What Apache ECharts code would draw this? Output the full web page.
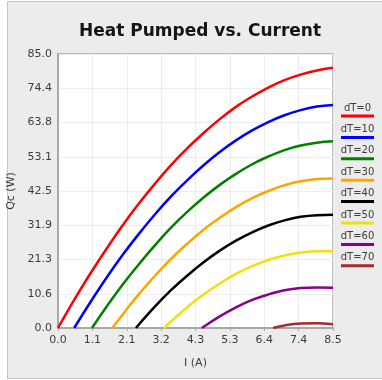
<!DOCTYPE html>
<html>
<head>
<meta charset="utf-8">
<script src="https://cdn.jsdelivr.net/npm/echarts@6/dist/echarts.min.js"></script>
<style>
  html, body { margin: 0; padding: 0; background: #ffffff; }
  #panel { position: absolute; left: 7px; top: 1px; width: 380px; height: 376px; background: #ececec; border: 1px solid #c6c6c6; }
  #chart { position: absolute; left: 0; top: 0; width: 382px; height: 380px; }
</style>
</head>
<body>
<div id="panel"></div>
<div id="chart"></div>
<script>
const currents = [0, 0.5, 1, 1.5, 2, 2.5, 3, 3.5, 4, 4.5, 5, 5.5, 6, 6.5, 7, 7.5, 8, 8.5];

// heat pumped Qc (W) per temperature difference, null = below zero
const qcDT0  = [0, 8.7, 16.9, 24.6, 31.9, 38.6, 44.8, 50.6, 55.8, 60.5, 64.8, 68.6, 71.8, 74.6, 76.9, 78.6, 79.9, 80.7];
const qcDT10 = [null, 0, 8.0, 15.6, 22.7, 29.2, 35.3, 40.9, 45.9, 50.5, 54.6, 58.2, 61.3, 63.9, 66.0, 67.6, 68.7, 69.2];
const qcDT20 = [null, null, null, 6.6, 13.5, 19.8, 25.7, 31.2, 36.1, 40.5, 44.4, 47.8, 50.8, 53.2, 55.2, 56.6, 57.5, 57.9];
const qcDT30 = [null, null, null, null, 4.2, 10.5, 16.2, 21.5, 26.2, 30.5, 34.2, 37.5, 40.3, 42.5, 44.3, 45.5, 46.2, 46.4];
const qcDT40 = [null, null, null, null, null, 1.1, 6.7, 11.8, 16.3, 20.4, 24.0, 27.1, 29.7, 31.8, 33.4, 34.5, 35.0, 35.1];
const qcDT50 = [null, null, null, null, null, null, null, 2.1, 6.5, 10.4, 13.8, 16.8, 19.2, 21.1, 22.5, 23.4, 23.8, 23.8];
const qcDT60 = [null, null, null, null, null, null, null, null, null, 0.4, 3.6, 6.4, 8.7, 10.4, 11.7, 12.4, 12.6, 12.5];
const qcDT70 = [null, null, null, null, null, null, null, null, null, null, null, null, null, null, 0.8, 1.4, 1.5, 1.2];

// current where each curve leaves the zero line
const startCurrents = [0, 0.5, 1.05, 1.68, 2.41, 3.28, 4.45, 6.65];

const seriesNames = ['dT=0', 'dT=10', 'dT=20', 'dT=30', 'dT=40', 'dT=50', 'dT=60', 'dT=70'];
const seriesValues = [qcDT0, qcDT10, qcDT20, qcDT30, qcDT40, qcDT50, qcDT60, qcDT70];

const xTickLabels = ['0.0', '1.1', '2.1', '3.2', '4.3', '5.3', '6.4', '7.4', '8.5'];
const yTickLabels = ['0.0', '10.6', '21.3', '31.9', '42.5', '53.1', '63.8', '74.4', '85.0'];

const lineColors = ['#ff0000', '#0000ff', '#008000', '#ffa500', '#000000', '#f0e010', '#8b008b', '#a52a2a'];

const chart = echarts.init(document.getElementById('chart'));

// legend: name on top, coloured bar underneath
const rich = { t: { fontSize: 10, lineHeight: 12, width: 33, align: 'center', color: '#3c3c3c', fontFamily: 'DejaVu Sans' } };
lineColors.forEach((c, i) => {
  rich['l' + i] = { backgroundColor: c, width: 33, height: 3, lineHeight: 4, fontSize: 1 };
});

const series = seriesNames.map((name, i) => {
  const start = startCurrents[i];
  const pts = [[start, 0]];
  currents.forEach((c, k) => {
    const v = seriesValues[i][k];
    if (v !== null && c > start) pts.push([c, v]);
  });
  return {
    name: name,
    type: 'line',
    data: pts,
    smooth: 0.4,
    showSymbol: false,
    lineStyle: { color: lineColors[i], width: 2.5 },
    itemStyle: { color: lineColors[i] }
  };
});

chart.setOption({
  animation: false,
  backgroundColor: 'transparent',
  textStyle: { fontFamily: 'DejaVu Sans' },
  title: {
    text: 'Heat Pumped vs. Current',
    left: 74,
    top: 18,
    textStyle: { fontSize: 17, fontWeight: 'bold', color: '#141414', fontFamily: 'DejaVu Sans' }
  },
  legend: {
    orient: 'vertical',
    left: 330,
    top: 98,
    itemWidth: 0,
    itemHeight: 0,
    itemGap: 6.9,
    selectedMode: false,
    data: seriesNames,
    formatter: name => '{t|' + name + '}\n{l' + seriesNames.indexOf(name) + '| }',
    textStyle: { rich: rich }
  },
  grid: {
    left: 58, right: 49, top: 54, bottom: 52,
    show: true, backgroundColor: '#ffffff', borderColor: '#a8a8a8', borderWidth: 1.5,
    outerBoundsMode: 'none'
  },
  xAxis: {
    type: 'value',
    min: 0, max: 8.5, interval: 1.0625,
    name: 'I (A)',
    nameLocation: 'middle',
    nameGap: 30,
    nameTextStyle: { fontSize: 11, color: '#3c3c3c' },
    axisLine: { show: true, lineStyle: { color: '#a8a8a8', width: 2 } },
    axisTick: { show: true, length: 3, lineStyle: { color: '#a8a8a8' } },
    axisLabel: { fontSize: 11, color: '#3c3c3c', margin: 7, formatter: (v, i) => xTickLabels[i] },
    splitLine: { show: true, lineStyle: { color: '#ececec', width: 1 } }
  },
  yAxis: {
    type: 'value',
    min: 0, max: 85, interval: 10.625,
    name: 'Qc (W)',
    nameLocation: 'middle',
    nameGap: 33,
    nameTextStyle: { fontSize: 11, color: '#3c3c3c' },
    axisLine: { show: true, lineStyle: { color: '#a8a8a8', width: 2 } },
    axisTick: { show: false },
    axisLabel: { fontSize: 11, color: '#3c3c3c', margin: 6, formatter: (v, i) => yTickLabels[i] },
    splitLine: { show: true, lineStyle: { color: '#ececec', width: 1 } }
  },
  series: series
});
</script>
</body>
</html>
